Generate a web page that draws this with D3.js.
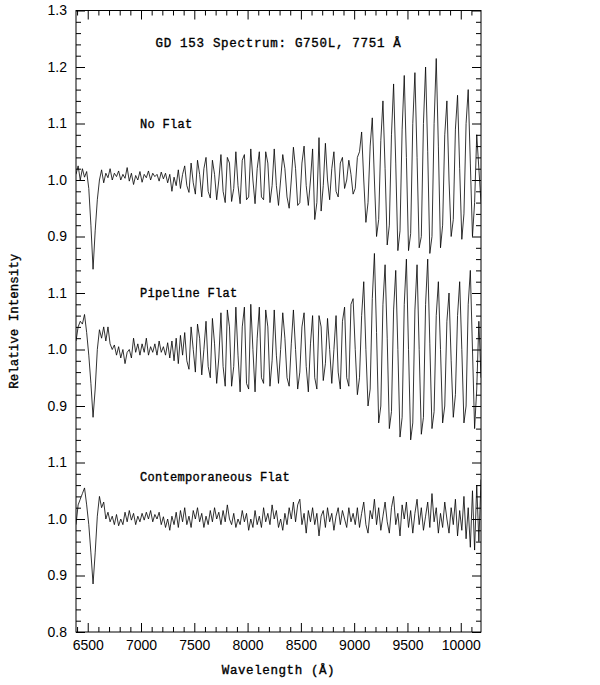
<!DOCTYPE html>
<html><head><meta charset="utf-8">
<script src="https://cdn.jsdelivr.net/npm/d3@7"></script>
<style>body{margin:0;background:#fff} svg{display:block}</style>
</head><body>
<svg id="chart" width="600" height="685"></svg>
<script>
// ---- DATA ----
const wavelengths = [
 6390,6410,6430,6450,6470,6490,6510,6530,6550,6570,
 6590,6610,6630,6650,6670,6690,6710,6730,6750,6770,
 6790,6810,6830,6850,6870,6890,6910,6930,6950,6970,
 6990,7010,7030,7050,7070,7090,7110,7130,7150,7170,
 7190,7210,7230,7250,7270,7290,7310,7330,7350,7370,
 7390,7410,7430,7450,7470,7490,7510,7530,7550,7570,
 7590,7610,7630,7650,7670,7690,7710,7730,7750,7770,
 7790,7810,7830,7850,7870,7890,7910,7930,7950,7970,
 7990,8010,8030,8050,8070,8090,8110,8130,8150,8170,
 8190,8210,8230,8250,8270,8290,8310,8330,8350,8370,
 8390,8410,8430,8450,8470,8490,8510,8530,8550,8570,
 8590,8610,8630,8650,8670,8690,8710,8730,8750,8770,
 8790,8810,8830,8850,8870,8890,8910,8930,8950,8970,
 8990,9010,9030,9050,9070,9090,9110,9130,9150,9170,
 9190,9210,9230,9250,9270,9290,9310,9330,9350,9370,
 9390,9410,9430,9450,9470,9490,9510,9530,9550,9570,
 9590,9610,9630,9650,9670,9690,9710,9730,9750,9770,
 9790,9810,9830,9850,9870,9890,9910,9930,9950,9970,
 9990,10010,10030,10050,10070,10090,10110,10130,10150,10170,
 10190];

const noFlat = [
 1.01,1.025,1.0,1.02,1.005,1.015,0.985,0.92,0.842,0.91,
 0.965,1.0,1.018,0.995,1.012,1.004,1.02,1.0,1.012,1.006,
 1.016,1.0,1.01,1.003,1.022,0.998,1.012,0.992,1.008,1.0,
 1.015,0.996,1.01,1.004,1.016,1.0,1.012,1.006,1.01,0.998,
 1.014,1.002,1.012,0.995,1.01,0.98,1.005,0.99,1.018,0.985,
 1.01,1.025,0.99,0.978,1.03,0.995,0.975,1.035,1.01,0.97,
 1.02,1.04,0.98,0.968,1.035,1.01,0.965,1.0,1.045,0.98,
 0.96,1.04,1.03,0.962,0.985,1.05,0.99,0.958,1.035,1.045,
 0.965,0.97,1.055,1.0,0.958,1.02,1.05,0.97,0.965,1.05,
 1.03,0.96,0.99,1.055,0.99,0.955,1.0,1.045,1.02,0.97,
 0.95,1.0,1.058,1.02,0.955,0.96,1.03,1.06,0.99,0.955,
 1.0,1.055,0.93,0.96,1.075,0.945,0.99,1.065,1.0,0.965,
 1.02,1.05,0.98,0.97,1.03,1.04,0.985,1.0,1.035,1.01,
 0.975,0.985,1.04,1.05,1.085,1.0,0.925,0.96,1.06,1.11,
 1.0,0.9,0.93,1.07,1.14,1.02,0.885,0.92,1.08,1.17,
 1.03,0.875,0.91,1.09,1.185,1.04,0.875,0.905,1.1,1.19,
 1.04,0.88,0.9,1.1,1.2,1.05,0.87,0.9,1.1,1.215,
 1.06,0.88,0.92,1.08,1.14,1.0,0.9,0.93,1.09,1.15,
 1.02,0.895,0.94,1.1,1.16,1.03,0.9,0.96,1.08,1.02,
 0.96];

const pipelineFlat = [
 1.015,1.04,1.05,1.045,1.062,1.03,0.99,0.94,0.88,0.93,
 1.0,1.035,1.02,1.04,1.015,1.04,1.01,1.0,1.008,0.99,
 1.005,0.985,1.0,0.975,0.995,1.0,0.985,1.02,0.995,1.01,
 0.99,1.01,0.995,1.02,0.99,1.005,0.995,1.01,0.99,1.015,
 0.995,1.005,0.99,1.012,0.985,1.015,0.98,1.02,0.975,1.025,
 0.99,1.03,0.98,0.965,1.04,1.0,0.96,1.045,1.02,0.955,
 1.0,1.05,0.97,0.95,1.055,1.01,0.94,0.985,1.065,0.97,
 0.935,1.07,1.04,0.935,0.97,1.075,0.99,0.925,1.04,1.075,
 0.94,0.93,1.08,1.0,0.925,1.02,1.075,0.95,0.94,1.07,
 1.04,0.935,0.98,1.07,0.99,0.94,1.0,1.065,1.02,0.95,
 0.935,1.01,1.07,1.0,0.93,0.96,1.04,1.065,0.97,0.925,
 1.01,1.06,0.95,0.93,1.06,1.04,0.945,0.975,1.055,1.0,
 0.94,1.0,1.06,0.96,0.93,1.05,1.075,0.95,0.935,1.08,
 1.09,1.0,0.92,0.95,1.06,1.12,1.0,0.9,0.93,1.09,
 1.17,1.03,0.87,0.9,1.08,1.15,1.02,0.86,0.89,1.07,
 1.14,1.0,0.845,0.88,1.08,1.16,1.0,0.84,0.87,1.07,
 1.15,1.0,0.85,0.88,1.08,1.16,1.01,0.86,0.89,1.06,
 1.12,1.0,0.87,0.9,1.05,1.1,0.98,0.88,0.92,1.06,
 1.12,1.0,0.87,0.9,1.08,1.14,1.0,0.86,0.93,1.05,
 0.95];

const contemporaneousFlat = [
 0.99,1.025,1.035,1.045,1.055,1.025,0.99,0.94,0.885,0.94,
 1.005,1.04,1.02,1.03,1.0,1.012,0.995,1.005,0.99,1.008,
 0.988,1.0,0.99,1.012,0.995,1.015,0.998,1.01,0.99,1.005,
 0.995,1.01,0.998,1.012,1.0,1.015,0.995,1.008,1.0,1.012,
 0.99,1.004,0.985,1.0,0.98,1.005,0.99,1.012,0.985,1.015,
 0.995,1.02,0.99,1.005,0.985,1.015,1.0,1.02,0.995,1.01,
 0.985,1.005,0.99,1.015,0.995,1.02,1.0,1.012,0.99,1.015,
 0.995,1.025,1.0,0.99,1.01,0.985,1.0,0.99,1.015,0.995,
 1.01,0.98,1.0,0.985,1.015,0.99,1.005,0.985,1.02,0.995,
 1.01,0.99,1.025,1.0,1.015,0.985,1.0,0.98,1.01,0.99,
 1.02,1.0,1.03,0.995,1.025,1.035,0.99,1.01,0.975,1.015,
 0.995,1.02,0.99,1.01,0.97,1.005,1.015,0.985,1.02,0.995,
 1.01,0.98,1.005,1.02,0.99,1.015,1.0,0.985,1.02,0.995,
 1.01,0.99,1.02,0.985,1.01,1.03,0.99,0.975,1.015,1.0,
 1.035,0.99,1.02,0.98,1.005,1.03,0.995,0.975,1.02,1.04,
 0.99,1.01,0.97,1.025,1.0,1.03,0.985,1.015,0.975,1.01,
 1.035,0.99,1.02,0.98,1.005,1.03,0.985,1.045,0.995,1.02,
 0.975,1.01,0.985,1.03,1.0,0.975,1.02,0.99,1.035,0.97,
 1.015,0.98,1.04,0.965,1.02,0.95,1.05,0.945,1.06,0.96,
 1.07];

const seriesNames = ["No Flat", "Pipeline Flat", "Contemporaneous Flat"];
const seriesValues = [noFlat, pipelineFlat, contemporaneousFlat];
const seriesOffsets = [-0.2, -0.5, -0.8];   // vertical stacking of the three spectra
const labelLevels = [1.1, 1.1, 1.075];      // height (in each spectrum's units) of its label

const yTickValues = [0, 0.1, 0.2, 0.3, 0.4, 0.5, 0.6, 0.7, 0.8, 0.9, 1.0, 1.1];
const yTickLabels = ["0.8","0.9","1.0","1.1","0.9","1.0","1.1","0.9","1.0","1.1","1.2","1.3"];
const xTickValues = [6500, 7000, 7500, 8000, 8500, 9000, 9500, 10000];
const xDomain = [6390, 10190];
const yDomain = [0, 1.1];
const titleText = "GD 153 Spectrum: G750L, 7751 Å";
const xTitle = "Wavelength (Å)";
const yTitle = "Relative Intensity";

// ---- DRAW ----
const svg = d3.select("#chart");
const L = 76, R = 481, T = 10.5, B = 632;
const x = d3.scaleLinear().domain(xDomain).range([L, R]);
const y = d3.scaleLinear().domain(yDomain).range([B, T]);

const xMinor = d3.range(6400, 10200, 100).filter(v => v % 500 !== 0);
const yMinor = d3.range(0, 1.1001, 0.02).filter(v => Math.abs(v * 10 - Math.round(v * 10)) > 1e-6);

const tickFont = "'Liberation Sans', Arial, sans-serif";
const textFont = "'Liberation Mono', 'Courier New', monospace";

function styleAxis(g) {
  g.select(".domain").remove();
  g.selectAll(".tick line").attr("stroke", "#000").attr("stroke-width", 1);
  g.selectAll(".tick text").attr("fill", "#000").attr("font-family", tickFont).attr("font-size", 14);
}

// bottom
svg.append("g").attr("transform", `translate(0,${B})`)
  .call(d3.axisBottom(x).tickValues(xTickValues).tickFormat(d3.format("d")).tickSize(-9).tickPadding(8))
  .call(styleAxis);
svg.append("g").attr("transform", `translate(0,${B})`)
  .call(d3.axisBottom(x).tickValues(xMinor).tickFormat("").tickSize(-5))
  .call(styleAxis);
// top
svg.append("g").attr("transform", `translate(0,${T})`)
  .call(d3.axisTop(x).tickValues(xTickValues).tickFormat("").tickSize(-9))
  .call(styleAxis);
svg.append("g").attr("transform", `translate(0,${T})`)
  .call(d3.axisTop(x).tickValues(xMinor).tickFormat("").tickSize(-5))
  .call(styleAxis);
// left
svg.append("g").attr("transform", `translate(${L},0)`)
  .call(d3.axisLeft(y).tickValues(yTickValues).tickFormat((d, i) => yTickLabels[i]).tickSize(-9).tickPadding(9))
  .call(styleAxis);
svg.append("g").attr("transform", `translate(${L},0)`)
  .call(d3.axisLeft(y).tickValues(yMinor).tickFormat("").tickSize(-5))
  .call(styleAxis);
// right
svg.append("g").attr("transform", `translate(${R},0)`)
  .call(d3.axisRight(y).tickValues(yTickValues).tickFormat("").tickSize(-9))
  .call(styleAxis);
svg.append("g").attr("transform", `translate(${R},0)`)
  .call(d3.axisRight(y).tickValues(yMinor).tickFormat("").tickSize(-5))
  .call(styleAxis);

// frame
svg.append("rect").attr("x", L).attr("y", T).attr("width", R - L).attr("height", B - T)
  .attr("fill", "none").attr("stroke", "#000").attr("stroke-width", 1);

// clip
svg.append("clipPath").attr("id", "plotclip").append("rect")
  .attr("x", L).attr("y", T).attr("width", R - L).attr("height", B - T);

const plot = svg.append("g").attr("clip-path", "url(#plotclip)");
seriesValues.forEach((vals, k) => {
  const line = d3.line()
    .x((d, i) => x(wavelengths[i]))
    .y(d => y(d + seriesOffsets[k]));
  plot.append("path").datum(vals)
    .attr("d", line)
    .attr("fill", "none")
    .attr("stroke", "#000")
    .attr("stroke-width", 0.8)
    .attr("stroke-linejoin", "round");
});

function textStyle(sel, size, ls) {
  sel.attr("font-family", textFont).attr("font-size", size)
    .attr("letter-spacing", ls)
    .attr("fill", "#000").attr("stroke", "#000").attr("stroke-width", 0.35);
}

// series labels
seriesNames.forEach((name, k) => {
  svg.append("text")
    .attr("x", x(6990))
    .attr("y", y(labelLevels[k] + seriesOffsets[k]) + 4)
    .call(textStyle, 12, 0.3)
    .text(name);
});

// title
svg.append("text")
  .attr("x", (L + R) / 2).attr("y", 47)
  .attr("text-anchor", "middle")
  .call(textStyle, 12.5, 0.7)
  .text(titleText);

// axis titles
svg.append("text")
  .attr("x", (L + R) / 2).attr("y", 674)
  .attr("text-anchor", "middle")
  .call(textStyle, 12.5, 0.6)
  .text(xTitle);

svg.append("text")
  .attr("transform", `translate(18,${(T + B) / 2}) rotate(-90)`)
  .attr("text-anchor", "middle")
  .call(textStyle, 12.5, 0)
  .text(yTitle);
</script>
</body></html>
